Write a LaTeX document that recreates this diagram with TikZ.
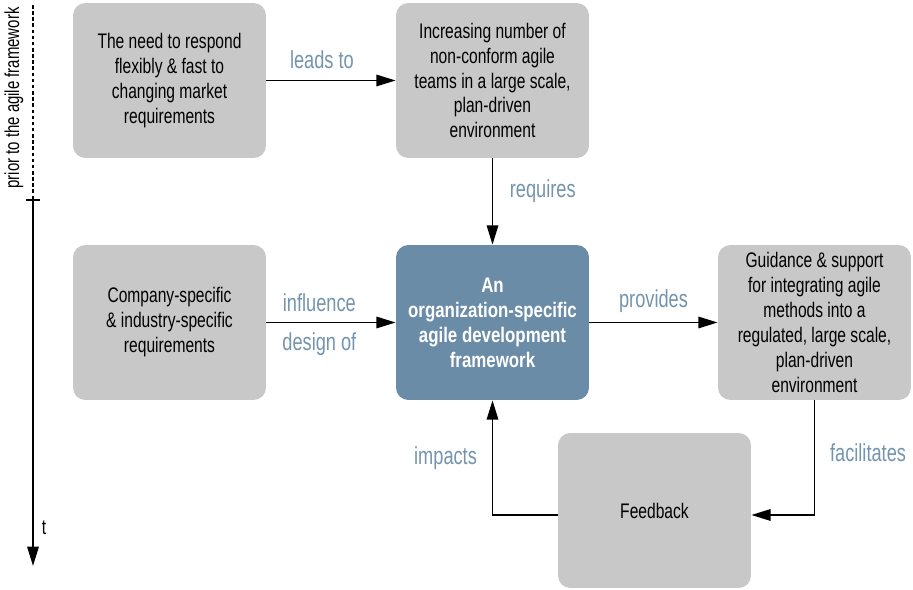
\documentclass[tikz,border=0pt]{standalone}
\usepackage{fontspec}
\setmainfont{Liberation Sans}[FakeStretch=0.74, BoldFeatures={FakeStretch=0.8}]
\usetikzlibrary{arrows.meta}
\definecolor{boxgray}{HTML}{C8C8C8}
\definecolor{coreblue}{HTML}{6A8CA6}
\definecolor{labelblue}{HTML}{7394AE}

\begin{document}
\begin{tikzpicture}[x=0.02cm, y=-0.02cm,
  every node/.style={font=\fontsize{12}{14.2}\selectfont},
  box/.style={fill=boxgray, rounded corners=7pt, minimum width=3.86cm, minimum height=3.1cm, align=center},
  core/.style={box, fill=coreblue, text=white, font=\fontsize{12}{14.2}\selectfont\bfseries},
  rel/.style={-{Triangle[length=11pt, width=6.5pt]}, line width=1.1pt},
  lbl/.style={text=labelblue, font=\fontsize{14}{16}\selectfont}]
  \useasboundingbox (0,0) rectangle (913,590);

  % time axis
  \draw[line width=1.1pt, dash pattern=on 2pt off 1.5pt] (33,5) -- (33,200);
  \draw[line width=1.1pt] (26,200) -- (40,200);
  \draw[rel] (33,200) -- (33,566) coordinate (tend);
  \node[rotate=90, font=\fontsize{11.5}{13}\selectfont] (prior) at (14,98) {prior to the agile framework};
  \node (t) at (44,528) {t};

  % boxes
  \node[box] (need) at (169.5,80.5) {The need to respond\\ flexibly \& fast to\\ changing market\\ requirements};
  \node[box] (teams) at (492.5,80.5) {Increasing number of\\ non-conform agile\\ teams in a large scale,\\ plan-driven\\ environment};
  \node[box] (company) at (169.5,322.5) {Company-specific\\ \& industry-specific\\ requirements};
  \node[core] (frame) at (492.5,322.5) {An\\ organization-specific\\ agile development\\ framework};
  \node[box] (guide) at (814.5,322.5) {Guidance \& support\\ for integrating agile\\ methods into a\\ regulated, large scale,\\ plan-driven\\ environment};
  \node[box] (feed) at (654.5,510.5) {Feedback};

  % relations
  \draw[rel] (need) -- node[lbl, pos=0.43, above=3pt] {leads to} (teams);
  \draw[rel] (teams) -- node[lbl, pos=0.38, right=6pt] {requires} (frame);
  \draw[rel] (company) -- node[lbl, pos=0.41, above=2pt] {influence} node[lbl, pos=0.41, below=2pt] {design of} (frame);
  \draw[rel] (frame) -- node[lbl, above=2pt] {provides} (guide);
  \draw[rel] (guide.south) |- node[lbl, pos=0.23, right=5pt] {facilitates} ([yshift=-0.09cm]feed.east);
  \draw[rel] ([yshift=-0.09cm]feed.west) -| node[lbl, pos=0.75, left=5pt] {impacts} (frame.south);
\end{tikzpicture}
\end{document}
